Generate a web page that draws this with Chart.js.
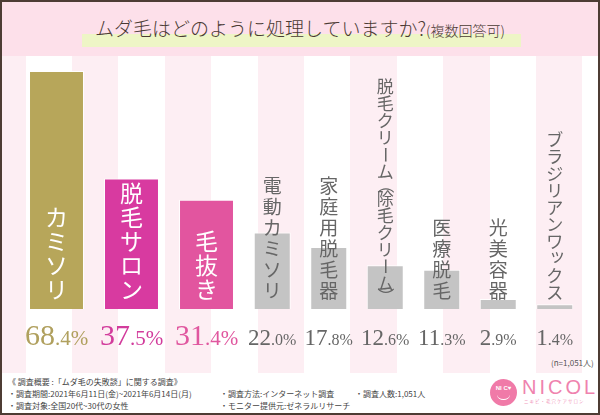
<!DOCTYPE html>
<html><head><meta charset="utf-8">
<script src="https://cdn.jsdelivr.net/npm/chart.js@4"></script>
<style>
html,body{margin:0;padding:0;background:#fff;}
#wrap{position:relative;width:600px;height:415px;overflow:hidden;background:#fff;font-family:"Noto Sans CJK JP",sans-serif;}
#header{position:absolute;left:0;top:0;width:600px;height:56px;background:#fde0ea;}
#hl{position:absolute;left:82px;top:34px;width:439px;height:13px;background:#eef5c6;}
#title{position:absolute;left:0;top:15px;width:600px;text-align:center;color:#4a3a33;font-size:19px;font-weight:300;line-height:26px;white-space:nowrap;}
#title small{font-size:14px;}
#stripes{position:absolute;left:0;top:56px;width:600px;height:317px;
 background:repeating-linear-gradient(90deg,#fdeef3 -20.8px,#fdeef3 25.6px,#ffffff 25.6px,#ffffff 72px);}
canvas{position:absolute;}
#n{position:absolute;left:551px;top:357px;font-size:8px;color:#555;}
#foot{position:absolute;left:8px;top:376px;font-size:8px;color:#444;line-height:12px;white-space:nowrap;}
#foot div{position:relative;height:12px;}
#foot span{position:absolute;}
#logo{position:absolute;left:490px;top:379px;width:27px;height:27px;border-radius:50%;background:#f07aa8;}
#logo .t{position:absolute;left:0;top:6px;width:27px;text-align:center;color:#fff;font-size:6px;font-family:"Liberation Sans",sans-serif;font-weight:bold;}
#logo .s{position:absolute;left:7px;top:10px;width:13px;height:10px;border-bottom:1.5px solid #fff;border-radius:0 0 50% 50%;}
#nicol{position:absolute;left:522px;top:376px;font-family:"Liberation Sans",sans-serif;font-size:20px;letter-spacing:3px;color:#ef82ae;}
#nsub{position:absolute;left:524px;top:398px;font-size:4.5px;color:#f19abd;letter-spacing:1px;}
#border{position:absolute;left:0;top:0;width:600px;height:415px;box-sizing:border-box;border:2px solid #4d3c34;pointer-events:none;}
</style></head>
<body><div id="wrap">
<div id="header"></div>
<div id="hl"></div>
<div id="title">ムダ毛はどのように処理していますか?<small>(複数回答可)</small></div>
<div id="stripes"></div>
<canvas id="c1" width="225" height="300" style="left:19px;top:56px"></canvas>
<canvas id="c2" width="339" height="300" style="left:244px;top:56px"></canvas>
<div id="n">(n=1,051人)</div>
<div id="foot">
 <div><span style="left:0">《 調査概要 :「ムダ毛の失敗談」に関する調査》</span></div>
 <div><span style="left:0">・調査期間:2021年6月11日(金)~2021年6月14日(月)</span><span style="left:212px">・調査方法:インターネット調査</span><span style="left:347px">・調査人数:1,051人</span></div>
 <div><span style="left:0">・調査対象:全国20代~30代の女性</span><span style="left:212px">・モニター提供元:ゼネラルリサーチ</span></div>
</div>
<div id="logo"><div class="t">NI C♥</div><div class="s"></div></div>
<div id="nicol">NICOL</div>
<div id="nsub">ニキビ・毛穴ケアサロン</div>
<div id="border"></div>
</div>
<script>
// ---- data ----
const categories = ['カミソリ','脱毛サロン','毛抜き','電動カミソリ','家庭用脱毛器','脱毛クリーム（除毛クリーム）','医療脱毛','光美容器','ブラジリアンワックス'];
const percentages = [68.4,37.5,31.4,22.0,17.8,12.6,11.3,2.9,1.4];
const topCount = 3;

// ---- styles ----
const barColors = ['#b7a65a','#d83aa0','#e2559f','#c4c4c4','#c4c4c4','#c4c4c4','#c4c4c4','#c4c4c4','#c4c4c4'];
const valueColors = ['#b0a05e','#d23c9c','#e0579f','#666666','#666666','#666666','#666666','#666666','#666666'];
const textColors = ['#ffffff','#ffffff','#ffffff','#666666','#666666','#666666','#666666','#666666','#666666'];

const ROT = 'ー（）()';
const SMALL = 'ッャュョァィゥェォ';

function drawVertical(ctx, text, cx, bottom, size, pitch, color){
  const chars = Array.from(text);
  const adv = chars.map(c => '（）()'.includes(c) ? pitch*0.55 : pitch);
  const total = adv.reduce((a,b)=>a+b,0);
  let y = bottom - total;
  ctx.save();
  ctx.fillStyle = color;
  ctx.font = size + 'px "Noto Sans CJK JP"';
  ctx.textAlign = 'center';
  ctx.textBaseline = 'middle';
  chars.forEach((c,i)=>{
    const my = y + adv[i]/2;
    if (ROT.includes(c)) {
      ctx.save(); ctx.translate(cx, my); ctx.rotate(Math.PI/2);
      ctx.fillText(c, 0, 0); ctx.restore();
    } else if (SMALL.includes(c)) {
      ctx.fillText(c, cx + size*0.15, my - size*0.15);
    } else {
      ctx.fillText(c, cx, my);
    }
    y += adv[i];
  });
  ctx.restore();
}

function drawValue(ctx, v, cx, baseline, big, small, color){
  const s = v.toFixed(1);
  const ip = s.split('.')[0];
  const rest = '.' + s.split('.')[1] + '%';
  ctx.save();
  ctx.fillStyle = color;
  ctx.textBaseline = 'alphabetic';
  ctx.textAlign = 'left';
  ctx.font = big + 'px "Liberation Serif"';
  const w1 = ctx.measureText(ip).width;
  ctx.font = small + 'px "Liberation Serif"';
  const w2 = ctx.measureText(rest).width;
  let x = cx - (w1 + w2)/2;
  ctx.font = big + 'px "Liberation Serif"';
  ctx.fillText(ip, x, baseline);
  ctx.font = small + 'px "Liberation Serif"';
  ctx.fillText(rest, x + w1, baseline);
  ctx.restore();
}

const labelPlugin = {
  id: 'barLabels',
  afterDatasetsDraw(chart, args, opts){
    const ctx = chart.ctx;
    const meta = chart.getDatasetMeta(0);
    const off = opts.offset;
    meta.data.forEach((bar, i) => {
      const k = off + i;
      const label = chart.data.labels[i];
      const val = chart.data.datasets[0].data[i];
      let size, pitch;
      if (k < topCount) { size = 23; pitch = 24; }
      else if (Array.from(label).length >= 9) { size = 17; pitch = 17; }
      else { size = 19; pitch = 21; }
      drawVertical(ctx, label, bar.x, bar.base - 8, size, pitch, textColors[k]);
      if (k < topCount) drawValue(ctx, val, bar.x, bar.base + 36, 30, 21, valueColors[k]);
      else drawValue(ctx, val, bar.x, bar.base + 36, 23, 16, valueColors[k]);
    });
  }
};

function makeChart(id, from, to, barPct){
  return new Chart(document.getElementById(id), {
    type: 'bar',
    data: {
      labels: categories.slice(from, to),
      datasets: [{
        data: percentages.slice(from, to),
        backgroundColor: barColors.slice(from, to),
        borderColor: 'rgba(255,255,255,0.9)',
        borderWidth: 1,
        barPercentage: barPct,
        categoryPercentage: 1
      }]
    },
    options: {
      responsive: false,
      animation: false,
      layout: { padding: { top: 0, bottom: 47, left: 0, right: 0 } },
      scales: {
        x: { display: false },
        y: { display: false, min: 0, max: 72.7 }
      },
      plugins: {
        legend: { display: false },
        tooltip: { enabled: false },
        barLabels: { offset: from }
      }
    },
    plugins: [labelPlugin]
  });
}

makeChart('c1', 0, topCount, 0.733);
makeChart('c2', topCount, categories.length, 0.655);
</script>
</body></html>
